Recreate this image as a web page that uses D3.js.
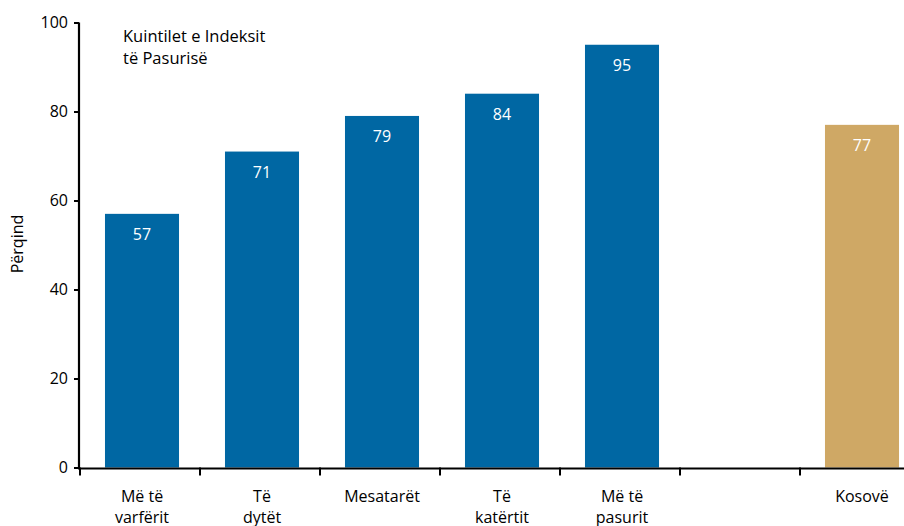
<!DOCTYPE html>
<html>
<head>
<meta charset="utf-8">
<script src="https://cdn.jsdelivr.net/npm/d3@7"></script>
<style>
  html, body { margin: 0; padding: 0; background: #fff; }
  svg { display: block; font-family: "Open Sans", "Noto Sans", sans-serif; }
</style>
</head>
<body>
<svg id="chart" width="904" height="526"></svg>
<script>
// Wealth index quintiles plus the national (Kosovo) figure; one empty slot separates them
const categories = ["Më të varfërit", "Të dytët", "Mesatarët", "Të katërtit", "Më të pasurit", "", "Kosovë"];
const categoryLines = [["Më të", "varfërit"], ["Të", "dytët"], ["Mesatarët"], ["Të", "katërtit"], ["Më të", "pasurit"], [], ["Kosovë"]];
const values = [57, 71, 79, 84, 95, null, 77];
const barColors = ["#0067a3", "#0067a3", "#0067a3", "#0067a3", "#0067a3", null, "#cfa865"];
const yTicks = [0, 20, 40, 60, 80, 100];
const yTitle = "Përqind";
const note = ["Kuintilet e Indeksit", "të Pasurisë"];

const svg = d3.select("#chart");

const x = d3.scaleBand()
  .domain(categories)
  .range([82, 922])
  .paddingInner(0.383)
  .paddingOuter(0.1915);

const y = d3.scaleLinear().domain([0, 100]).range([467.5, 22.5]);

const rows = categories.map((c, i) => ({ c, i, v: values[i], color: barColors[i], lines: categoryLines[i] }));
const bars = rows.filter(d => d.v != null);

// bars
svg.append("g").selectAll("rect")
  .data(bars)
  .join("rect")
  .attr("x", d => x(d.c))
  .attr("width", x.bandwidth())
  .attr("y", d => y(d.v))
  .attr("height", d => y(0) - y(d.v))
  .attr("fill", d => d.color);

// value labels inside the bars
svg.append("g").selectAll("text")
  .data(bars)
  .join("text")
  .attr("x", d => x(d.c) + x.bandwidth() / 2)
  .attr("y", d => y(d.v) + 26)
  .attr("text-anchor", "middle")
  .attr("fill", "#fff")
  .attr("font-size", 16)
  .text(d => d.v);

// y axis
const yAxis = svg.append("g")
  .attr("transform", "translate(79,0)")
  .call(d3.axisLeft(y).tickValues(yTicks).tickSize(5).tickPadding(6));
yAxis.select(".domain").attr("stroke", "#000").attr("stroke-width", 2.2)
  .attr("d", `M0,${y(100)}V${y(0) + 1}`);
yAxis.selectAll(".tick line").attr("stroke", "#000").attr("stroke-width", 2);
yAxis.selectAll(".tick text").attr("font-size", 16).attr("fill", "#000")
  .attr("font-family", "'Open Sans', sans-serif");

// x axis: baseline with ticks at slot boundaries
const step = x.step();
const edges = d3.range(categories.length + 1).map(i => x.range()[0] - 2 + i * step);
const xAxis = svg.append("g");
xAxis.append("line")
  .attr("x1", 78).attr("x2", 904)
  .attr("y1", y(0) + 1).attr("y2", y(0) + 1)
  .attr("stroke", "#000").attr("stroke-width", 2.2);
xAxis.selectAll("line.tick")
  .data(edges)
  .join("line")
  .attr("class", "tick")
  .attr("x1", d => d).attr("x2", d => d)
  .attr("y1", y(0)).attr("y2", y(0) + 8)
  .attr("stroke", "#000").attr("stroke-width", 2);

// category labels
const labels = xAxis.selectAll("text.cat")
  .data(rows)
  .join("text")
  .attr("class", "cat")
  .attr("text-anchor", "middle")
  .attr("font-size", 16)
  .attr("fill", "#000")
  .attr("transform", d => `translate(${x(d.c) + x.bandwidth() / 2},502)`);
labels.selectAll("tspan")
  .data(d => d.lines)
  .join("tspan")
  .attr("x", 0)
  .attr("y", (d, i) => i * 20.5)
  .text(d => d);

// y axis title
svg.append("text")
  .attr("transform", "translate(23,244) rotate(-90)")
  .attr("text-anchor", "middle")
  .attr("font-size", 16)
  .attr("fill", "#000")
  .text(yTitle);

// note in the upper left of the plot
svg.append("text")
  .attr("x", 123)
  .attr("y", 42)
  .attr("font-size", 16.5)
  .attr("fill", "#000")
  .selectAll("tspan")
  .data(note)
  .join("tspan")
  .attr("x", 123)
  .attr("dy", (d, i) => i === 0 ? 0 : 22)
  .text(d => d);
</script>
</body>
</html>
